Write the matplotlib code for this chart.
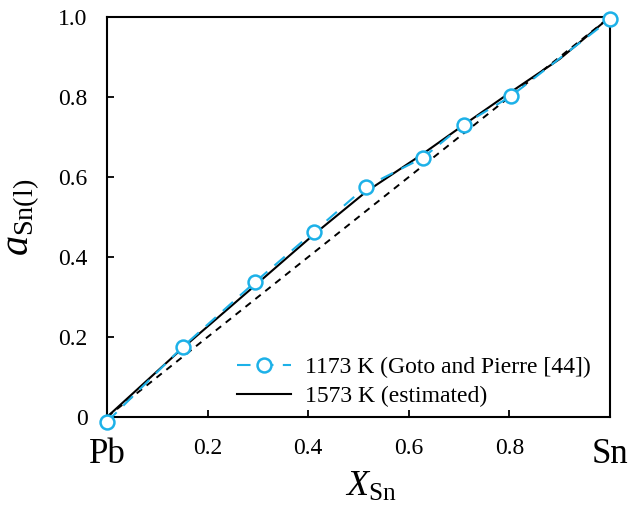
import matplotlib
matplotlib.use("Agg")
import matplotlib.pyplot as plt

plt.rcParams['font.family'] = ['Liberation Serif', 'DejaVu Serif']
plt.rcParams['mathtext.fontset'] = 'custom'
plt.rcParams['mathtext.rm'] = 'Liberation Serif'
plt.rcParams['mathtext.it'] = 'Liberation Serif:italic'

# Data
x_goto = [0.0, 0.151, 0.295, 0.411, 0.515, 0.628, 0.709, 0.803, 1.0]
a_goto = [-0.012, 0.176, 0.338, 0.463, 0.576, 0.648, 0.731, 0.802, 0.994]

x_est = [0.0, 0.15, 0.30, 0.41, 0.515, 0.628, 0.71, 0.80, 0.90, 1.0]
a_est = [0.0, 0.172, 0.335, 0.455, 0.563, 0.658, 0.731, 0.81, 0.895, 1.0]

x_ideal = [0.0, 1.0]
a_ideal = [0.0, 1.0]

xtick_vals = [0.0, 0.2, 0.4, 0.6, 0.8, 1.0]
xtick_labels = ['Pb', '0.2', '0.4', '0.6', '0.8', 'Sn']
ytick_vals = [0.0, 0.2, 0.4, 0.6, 0.8, 1.0]
ytick_labels = ['0', '0.2', '0.4', '0.6', '0.8', '1.0']

blue = '#1DB1E8'

fig = plt.figure(figsize=(6.3, 5.07), dpi=100)
ax = fig.add_axes([107/630, 1 - 417/507, 503/630, 400/507])

ax.plot(x_ideal, a_ideal, color='black', lw=1.4, ls=(0, (3.5, 3)), zorder=2)
ax.plot(x_est, a_est, color='black', lw=1.5, zorder=3,
        label='1573 K (estimated)')
ax.plot(x_goto, a_goto, color=blue, lw=1.5, ls=(0, (6.5, 4.5)), marker='o',
        markersize=10, markerfacecolor='white', markeredgecolor=blue,
        markeredgewidth=1.8, zorder=4, clip_on=False,
        label='1173 K (Goto and Pierre [44])')

ax.set_xlim(0, 1)
ax.set_ylim(0, 1)

ax.set_xticks(xtick_vals)
ax.set_xticklabels(xtick_labels)
ax.set_yticks(ytick_vals)
ax.set_yticklabels(ytick_labels)
ax.tick_params(direction='in', length=5, width=1.3, labelsize=17)
ax.tick_params(axis='x', pad=15)
ax.tick_params(axis='y', pad=14)
for i in (0, -1):
    lab = ax.get_xticklabels()[i]
    lab.set_fontsize(25)

for s in ax.spines.values():
    s.set_linewidth(1.5)

ax.set_xlabel(r'$X_{\mathrm{Sn}}$', fontsize=26)
ax.xaxis.set_label_coords(0.525, -0.135)
ax.set_ylabel(r'$a_{\mathrm{Sn(l)}}$', fontsize=29)
ax.yaxis.set_label_coords(-0.13, 0.5)

handles, labels = ax.get_legend_handles_labels()
leg = ax.legend(handles[::-1], labels[::-1], loc='lower right',
                bbox_to_anchor=(0.962, 0.025), frameon=False, fontsize=17,
                handlelength=2.3, handletextpad=0.6, labelspacing=0.3,
                borderpad=0.0, borderaxespad=0.0)

fig.savefig('out.png', dpi=100)
